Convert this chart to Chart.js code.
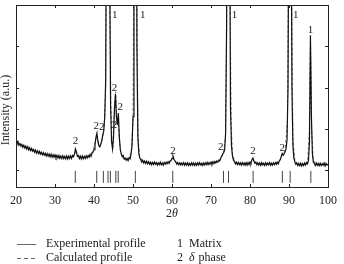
<!DOCTYPE html>
<html>
<head>
<meta charset="utf-8">
<script src="https://cdn.jsdelivr.net/npm/chart.js@4.4.1/dist/chart.umd.min.js"></script>
<style>
  html, body { margin: 0; padding: 0; background: #fff; }
  #wrap { width: 344px; height: 264px; }
</style>
</head>
<body>
<div id="wrap"><canvas id="chart" width="344" height="264"></canvas></div>
<script>
// measured pattern, sampled every 0.25 deg of 2theta from 20 to 100
const thetaStart = 20
const thetaStep = 0.25
const experimental = [
  1720, 1660, 1700, 1610,  1650, 1590, 1630, 1560,  1610, 1545, 1590, 1520,
  1575, 1500, 1550, 1480,  1530, 1470, 1510, 1440,  1490, 1420, 1475, 1410,
  1460, 1395, 1440, 1380,  1430, 1370, 1415, 1350,  1405, 1345, 1395, 1330,
  1390, 1325, 1380, 1320,  1375, 1310, 1365, 1300,  1360, 1295, 1350, 1290,
  1355, 1285, 1340, 1280,  1350, 1280, 1345, 1290,  1355, 1290, 1360, 1330,
  1400, 1520, 1450, 1340,  1360, 1290, 1345, 1280,  1350, 1285, 1340, 1290,
  1355, 1300, 1360, 1320,  1390, 1340, 1420, 1440,  1500, 1620, 1800, 1900,
  1700, 1600, 1570, 1640,  1720, 1860, 1950, 2300,  3200, 9000, 25000, 20000,
  6000, 2600, 1700, 1520,  1800, 2500, 2850, 2300,  2100, 2390, 1800, 1500,
  1400, 1330, 1360, 1280,  1300, 1250, 1290, 1240,  1310, 1280, 1400, 1600,
  2300, 6000, 18000, 15000,  4000, 1800, 1400, 1300,  1260, 1200, 1245, 1180,
  1230, 1170, 1220, 1160,  1210, 1150, 1200, 1140,  1195, 1145, 1205, 1150,
  1190, 1130, 1185, 1140,  1200, 1135, 1180, 1130,  1195, 1150, 1200, 1160,
  1210, 1170, 1230, 1240,  1290, 1350, 1270, 1230,  1200, 1150, 1190, 1140,
  1185, 1130, 1180, 1135,  1190, 1125, 1175, 1130,  1185, 1120, 1170, 1125,
  1180, 1130, 1185, 1120,  1175, 1125, 1180, 1130,  1190, 1135, 1175, 1120,
  1180, 1130, 1185, 1140,  1195, 1140, 1190, 1150,  1200, 1155, 1210, 1165,
  1215, 1180, 1230, 1200,  1250, 1230, 1300, 1340,  1400, 1430, 1500, 1900,
  4500, 15000, 20000, 8000,  2500, 1600, 1350, 1250,  1220, 1160, 1200, 1145,
  1195, 1140, 1185, 1130,  1190, 1135, 1180, 1125,  1185, 1130, 1190, 1140,
  1200, 1170, 1260, 1300,  1230, 1175, 1200, 1140,  1185, 1130, 1180, 1125,
  1190, 1135, 1175, 1120,  1185, 1130, 1180, 1135,  1190, 1125, 1175, 1130,
  1185, 1140, 1190, 1145,  1200, 1160, 1230, 1260,  1330, 1410, 1370, 1400,
  1460, 1520, 1750, 3000,  9000, 14000, 9000, 3000,  1600, 1300, 1210, 1150,
  1180, 1120, 1170, 1115,  1175, 1110, 1165, 1120,  1180, 1130, 1190, 1160,
  1250, 1700, 4270, 2300,  1400, 1200, 1170, 1120,  1180, 1125, 1170, 1115,
  1175, 1120, 1165, 1125,  1180, 1110, 1170, 1130,  1150
]

// fitted (calculated) profile
const calcAngles = [
  20, 21, 22, 23, 24, 25, 26, 27, 28, 29, 30, 31, 32, 33, 34, 34.8, 35.25, 35.7, 36.5, 37, 38, 39,
  39.75, 40.25, 40.75, 41.25, 41.6, 42, 42.4, 42.75, 43, 43.2, 43.6, 44, 44.3, 44.6, 44.85,
  45.2, 45.55, 45.85, 46.15, 46.5, 46.9, 47.5, 48.25, 49, 49.6, 50, 50.2, 50.6, 51.05, 51.3, 51.7,
  52.5, 54, 56, 58, 59.5, 60.25, 61, 63, 66, 69, 71, 72.25, 73.2, 73.7, 74, 74.45, 74.85, 75.15,
  75.5, 76.25, 78, 80, 80.8, 81.5, 83, 86, 87.5, 88.3, 89, 89.6, 89.85, 90.3, 90.7, 91, 91.5,
  92.5, 94, 94.8, 95.2, 95.5, 95.8, 96.2, 97, 100
]
const calcCounts = [
  1690, 1620, 1570, 1525, 1485, 1450, 1420, 1390, 1370, 1350, 1338, 1325, 1315, 1312, 1318, 1360, 1450, 1360, 1320, 1315, 1325, 1370,
  1480, 1650, 1850, 1640, 1600, 1700, 1900, 2250, 3000, 7000, 26000, 7500, 2600, 1650, 1560,
  2400, 2900, 2250, 2250, 1750, 1400, 1290, 1250, 1290, 1480, 2200, 5500, 18000, 4500, 1800, 1350,
  1220, 1180, 1165, 1165, 1195, 1290, 1185, 1155, 1150, 1160, 1190, 1260, 1420, 1800, 4200, 20000, 6000, 2200,
  1400, 1190, 1160, 1190, 1270, 1170, 1150, 1155, 1210, 1380, 1470, 2200, 5500, 14000, 5200, 1800, 1230,
  1145, 1150, 1230, 1900, 4200, 2000, 1250, 1150, 1140
]

// reflection positions (tick row under the pattern)
const reflections = [35.2, 40.7, 42.4, 43.6, 44.2, 45.6, 46.2, 50.6, 60.2, 73.2, 74.5, 80.8, 88.3, 90.3, 95.6]

// peak labels: 1 = matrix, 2 = delta phase
const peakLabelAngles = [45.3, 52.5, 76, 91.7, 95.5, 35.25, 40.6, 42.0, 45.25, 45.25, 46.75, 60.25, 72.5, 80.75, 88.25]
const peakLabelCounts = [4760, 4760, 4760, 4760, 4400, 1720, 2080, 2050, 2100, 3000, 2540, 1470, 1570, 1470, 1540]
const peakLabelTexts = ['1', '1', '1', '1', '1', '2', '2', '2', '2', '2', '2', '2', '2', '2', '2']

const xTicks = [30, 40, 50, 60, 70, 80, 90]
const yTicks = [1000, 2000, 3000, 4000]

const serif = '"Liberation Serif", "DejaVu Serif", serif'

const expPoints = experimental.map((v, i) => ({x: thetaStart + i * thetaStep, y: v}))
const calcPoints = calcAngles.map((a, i) => ({x: a, y: calcCounts[i]}))
const reflPoints = []
reflections.forEach(a => {
  reflPoints.push({x: a, y: 700}, {x: a, y: 990}, {x: a, y: null})
})

const decor = {
  id: 'decor',
  afterDraw(chart) {
    const {ctx, chartArea: a, scales: {x, y}} = chart
    ctx.save()
    ctx.strokeStyle = '#222'
    ctx.lineWidth = 1
    ctx.strokeRect(a.left + 0.5, a.top + 0.5, a.right - a.left, a.bottom - a.top)

    // inward ticks on all four sides
    ctx.beginPath()
    xTicks.forEach(v => {
      const px = Math.round(x.getPixelForValue(v)) + 0.5
      ctx.moveTo(px, a.bottom); ctx.lineTo(px, a.bottom - 3)
      ctx.moveTo(px, a.top); ctx.lineTo(px, a.top + 3)
    })
    yTicks.forEach(v => {
      const py = Math.round(y.getPixelForValue(v)) + 0.5
      ctx.moveTo(a.left, py); ctx.lineTo(a.left + 3, py)
      ctx.moveTo(a.right, py); ctx.lineTo(a.right - 3, py)
    })
    ctx.stroke()

    ctx.fillStyle = '#222'
    ctx.textBaseline = 'middle'

    // peak labels
    ctx.font = '11px ' + serif
    ctx.textAlign = 'center'
    peakLabelTexts.forEach((t, i) => {
      ctx.fillText(t, x.getPixelForValue(peakLabelAngles[i]), y.getPixelForValue(peakLabelCounts[i]))
    })

    // y title
    ctx.font = '12px ' + serif
    ctx.save()
    ctx.translate(6, 110)
    ctx.rotate(-Math.PI / 2)
    ctx.fillText('Intensity (a.u.)', 0, 0)
    ctx.restore()

    // x title: 2θ
    ctx.textAlign = 'left'
    ctx.font = '12px ' + serif
    const w2 = ctx.measureText('2').width
    ctx.font = 'italic 12px ' + serif
    const wt = ctx.measureText('θ').width
    const cx = (a.left + a.right) / 2
    ctx.font = '12px ' + serif
    ctx.fillText('2', cx - (w2 + wt) / 2, 214)
    ctx.font = 'italic 12px ' + serif
    ctx.fillText('θ', cx - (w2 + wt) / 2 + w2, 214)

    // legend
    ctx.strokeStyle = '#666'
    ctx.beginPath()
    ctx.moveTo(17, 244.5); ctx.lineTo(36, 244.5)
    ctx.stroke()
    ctx.setLineDash([4, 3])
    ctx.beginPath()
    ctx.moveTo(17, 258.5); ctx.lineTo(36, 258.5)
    ctx.stroke()
    ctx.setLineDash([])

    ctx.font = '12px ' + serif
    ctx.fillText('Experimental profile', 46, 244)
    ctx.fillText('Calculated profile', 46, 258)
    ctx.textAlign = 'center'
    ctx.fillText('1', 180, 244)
    ctx.fillText('2', 180, 258)
    ctx.textAlign = 'left'
    ctx.fillText('Matrix', 189, 244)
    ctx.font = 'italic 12px ' + serif
    ctx.fillText('δ', 189, 258)
    const wd = ctx.measureText('δ ').width
    ctx.font = '12px ' + serif
    ctx.fillText('phase', 189 + wd + 1, 258)
    ctx.restore()
  }
}

new Chart(document.getElementById('chart'), {
  type: 'line',
  data: {
    datasets: [
      {data: expPoints, borderColor: '#111', borderWidth: 1.2, pointRadius: 0, tension: 0},
      {data: calcPoints, borderColor: '#777', borderWidth: 1, borderDash: [3, 2], pointRadius: 0, tension: 0},
      {data: reflPoints, borderColor: '#444', borderWidth: 1, pointRadius: 0, spanGaps: false}
    ]
  },
  options: {
    responsive: false,
    animation: false,
    events: [],
    layout: {padding: {top: 5, right: 8, left: 0, bottom: 0}},
    plugins: {legend: {display: false}, tooltip: {enabled: false}},
    scales: {
      x: {
        type: 'linear', min: 20, max: 100,
        grid: {display: false, drawTicks: false},
        border: {display: false},
        ticks: {stepSize: 10, color: '#222', padding: 7, maxRotation: 0, font: {family: serif, size: 12}},
        afterFit: s => { s.height = 77 }
      },
      y: {
        min: 600, max: 5000,
        grid: {display: false, drawTicks: false},
        border: {display: false},
        ticks: {display: false},
        afterFit: s => { s.width = 16 }
      }
    }
  },
  plugins: [decor]
})
</script>
</body>
</html>
